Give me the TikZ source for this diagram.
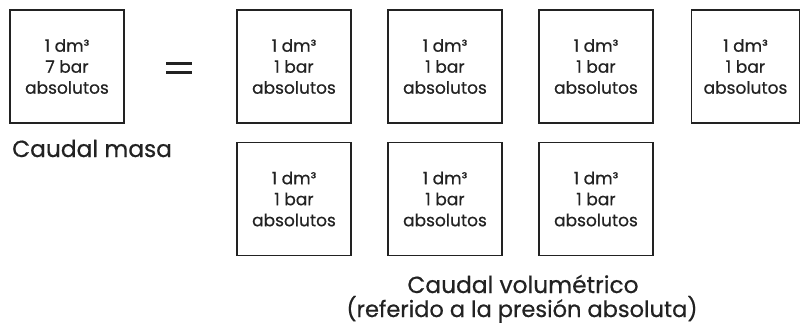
\documentclass[tikz,border=0pt]{standalone}
\usepackage{fontspec}
\setmainfont{Poppins}[FakeBold=0.6]
\definecolor{ink}{HTML}{222222}
\begin{document}
\begin{tikzpicture}[x=1pt,y=-1pt,
  vbox/.style={draw=ink,line width=1.8pt,minimum width=114pt,minimum height=113pt,inner sep=0pt,text=ink,align=center,font=\fontsize{17}{21}\selectfont},
  captxt/.style={text=ink,inner sep=0pt,font=\fontsize{23.3}{26}\selectfont},
  subtxt/.style={text=ink,inner sep=0pt,font=\fontsize{22.5}{24}\selectfont}]
\useasboundingbox (0,0) rectangle (801,325);
\node[vbox] (m) at (67,66.5) {1 dm³\\7 bar\\absolutos};
\node[vbox] (a1) at (294,66.5) {1 dm³\\1 bar\\absolutos};
\node[vbox] (a2) at (445,66.5) {1 dm³\\1 bar\\absolutos};
\node[vbox] (a3) at (596,66.5) {1 dm³\\1 bar\\absolutos};
\node[vbox,minimum width=108pt] (a4) at (745.5,66.5) {1 dm³\\1 bar\\absolutos};
\node[vbox] (b1) at (294,199) {1 dm³\\1 bar\\absolutos};
\node[vbox] (b2) at (445,199) {1 dm³\\1 bar\\absolutos};
\node[vbox] (b3) at (596,199) {1 dm³\\1 bar\\absolutos};
\node[captxt,anchor=base west] (cm) at (12,157) {Caudal masa};
\node[captxt,anchor=base] (cv) at (523,293) {Caudal volumétrico};
\node[subtxt,anchor=base] (rf) at (522,317) {(referido a la presión absoluta)};
\coordinate (e1) at (166,63.5);
\coordinate (e2) at (192,63.5);
\coordinate (e3) at (166,72);
\coordinate (e4) at (192,72);
\draw[ink,line width=3pt] (e1) -- (e2) (e3) -- (e4);
\end{tikzpicture}
\end{document}
